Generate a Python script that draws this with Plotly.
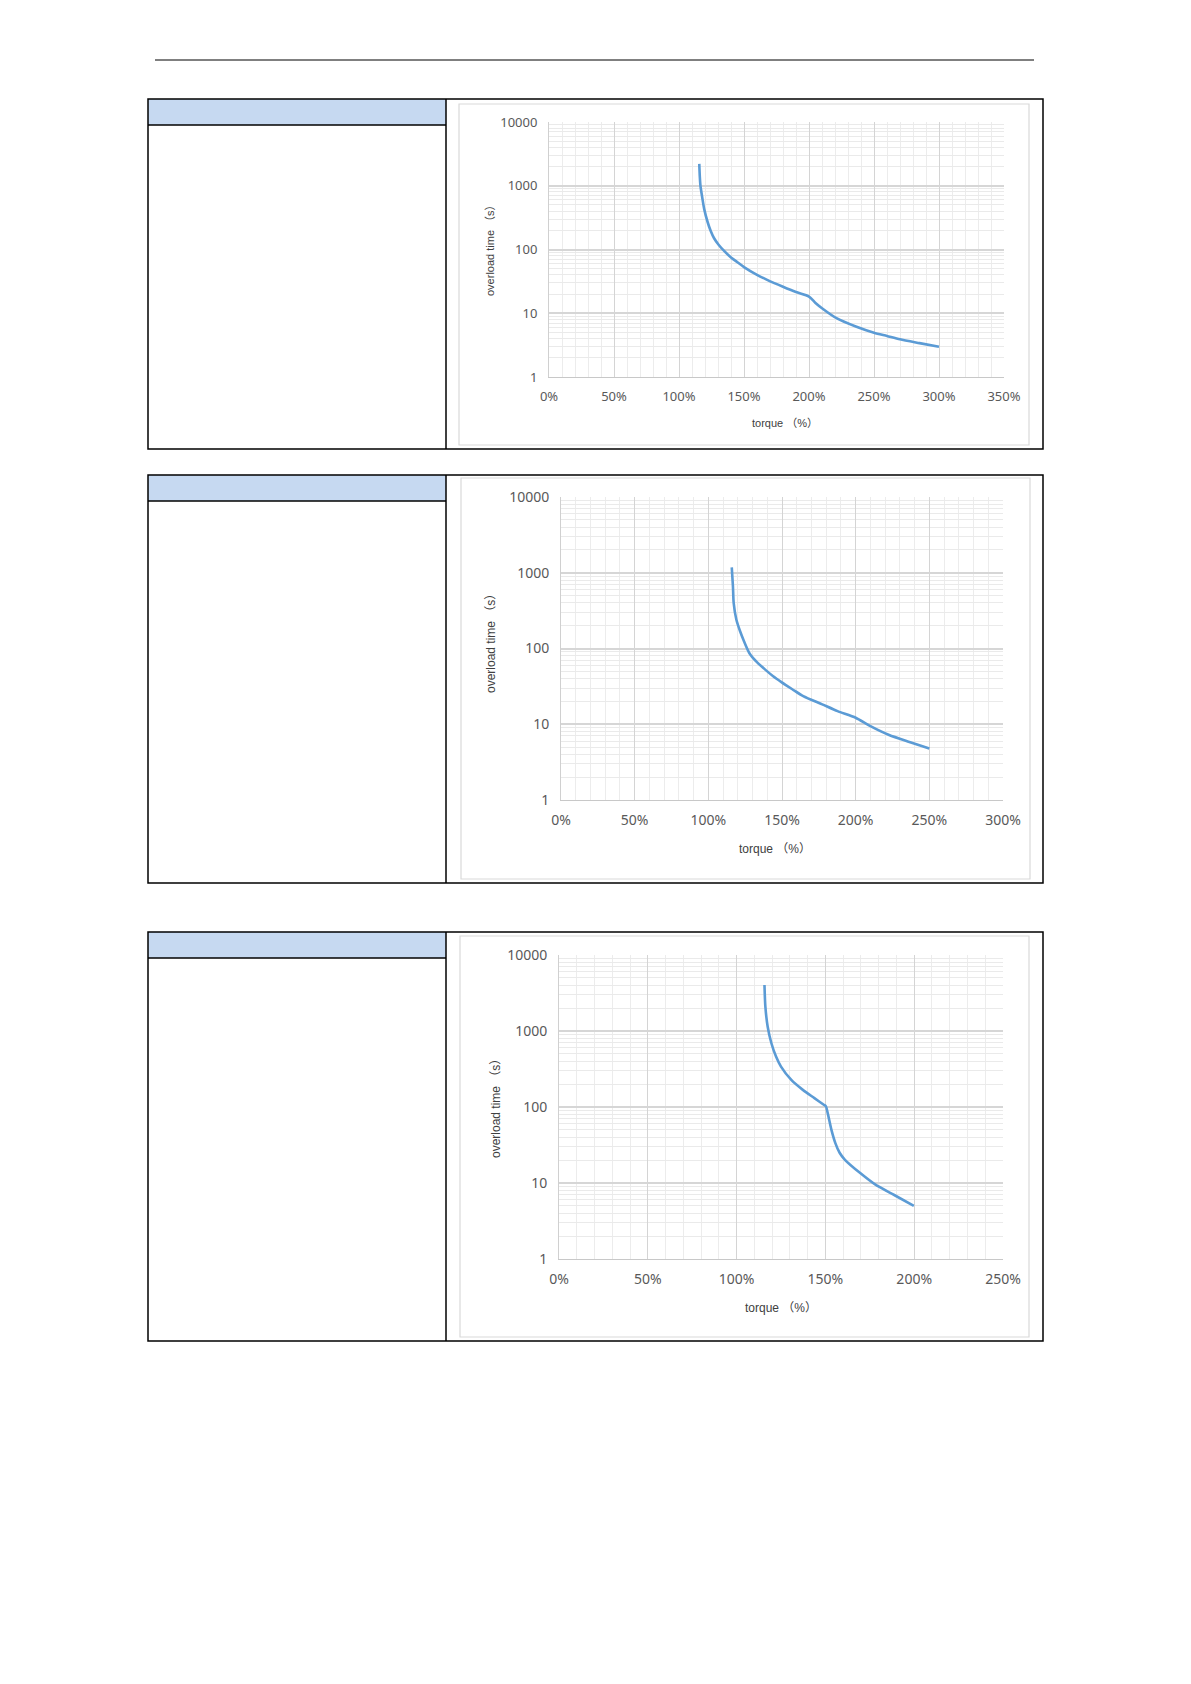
import plotly.graph_objects as go

# Overload curves: torque (%) vs. allowed overload time (s)
torque_1 = [115.6, 116.0, 116.5, 117.9, 119.4, 122.0, 124.4, 127.0, 130.3, 134.7, 140.0, 145.0,
            150.0, 160.0, 167.0, 180.0, 190.0, 200.0, 205.0, 210.0, 221.5, 236.0, 250.0, 260.0,
            270.0, 285.0, 300.0]
time_1 = [2200, 1400, 1000, 650, 430, 270, 195, 150, 120, 95, 75, 63,
          53, 40, 34, 26, 21.5, 18.3, 14.5, 12.0, 8.3, 6.2, 4.95, 4.4,
          3.9, 3.4, 2.98]

torque_2 = [115.9, 116.7, 117.2, 119.0, 121.5, 124.2, 128.0, 133.0, 138.4, 144.0, 149.6,
            157.0, 164.4, 177.3, 187.7, 200.0, 209.7, 222.7, 237.0, 250.0]
time_2 = [1180, 664, 400, 241, 170, 125, 86, 66, 53, 43, 36,
          29, 23.5, 18.3, 14.9, 12.2, 9.5, 7.2, 5.8, 4.8]

torque_3 = [115.7, 116.2, 117.5, 119.6, 122.2, 125.0, 130.8, 137.3, 143.8, 149.1, 150.3, 151.3,
            153.4, 155.6, 158.0, 161.0, 169.6, 178.2, 189.0, 199.8]
time_3 = [4030, 2090, 1140, 690, 461, 340, 227, 168, 131, 107, 102, 83,
          50, 33.5, 25, 20.2, 13.5, 9.5, 6.9, 5.0]

x_ticks_1 = [0, 50, 100, 150, 200, 250, 300, 350]
x_ticks_2 = [0, 50, 100, 150, 200, 250, 300]
x_ticks_3 = [0, 50, 100, 150, 200, 250]
y_ticks = [1, 10, 100, 1000, 10000]
y_labels = ["1", "10", "100", "1000", "10000"]

W, H = 1191, 1684
LINE_BLUE = "#5b9bd5"
TICK_FONT = "Noto Sans, Liberation Sans, sans-serif"
TITLE_FONT = "Liberation Sans, Noto Sans CJK SC, sans-serif"

# Minor log gridlines at 2..9 x each decade
y_minor = [m * 10 ** k for k in range(4) for m in range(2, 10)]


def px_x(v):
    """Page pixel column -> paper x."""
    return v / W


def px_y(v):
    """Page pixel row -> paper y."""
    return 1 - v / H


panels = [
    dict(x=torque_1, y=time_1, xt=x_ticks_1, plot=(549, 1004, 122, 377), font=13, title_font=11,
         table=(148, 1043, 99, 449), head=125, frame=(459, 1029, 104, 445),
         xtitle=(785, 423), ytitle=(490, 248)),
    dict(x=torque_2, y=time_2, xt=x_ticks_2, plot=(561, 1003, 497, 800), font=14, title_font=12,
         table=(148, 1043, 475, 883), head=501, frame=(461, 1030, 478, 879),
         xtitle=(775, 849), ytitle=(491, 641)),
    dict(x=torque_3, y=time_3, xt=x_ticks_3, plot=(559, 1003, 955, 1259), font=14, title_font=12,
         table=(148, 1043, 932, 1341), head=958, frame=(460, 1029, 936, 1337),
         xtitle=(781, 1308), ytitle=(496, 1105)),
]

fig = go.Figure()
shapes = []
annotations = []

# Page header rule
shapes.append(dict(type="line", xref="paper", yref="paper",
                   x0=px_x(155), x1=px_x(1034), y0=px_y(60), y1=px_y(60),
                   line=dict(color="#000000", width=1)))

for i, p in enumerate(panels, start=1):
    xa = "xaxis" if i == 1 else f"xaxis{i}"
    ya = "yaxis" if i == 1 else f"yaxis{i}"
    xr = "x" if i == 1 else f"x{i}"
    yr = "y" if i == 1 else f"y{i}"
    x0, x1, y0, y1 = p["plot"]

    fig.add_trace(go.Scatter(x=p["x"], y=p["y"], mode="lines", xaxis=xr, yaxis=yr,
                             line=dict(color=LINE_BLUE, width=2.6, shape="spline", smoothing=0.7),
                             showlegend=False, hoverinfo="skip"))

    xmax = p["xt"][-1]
    fig.layout[xa] = dict(
        domain=[px_x(x0), px_x(x1)], anchor=yr, range=[0, xmax],
        tickvals=p["xt"], ticktext=[f"{v}%" for v in p["xt"]],
        tickfont=dict(family=TICK_FONT, size=p["font"], color="#595959"),
        showgrid=True, gridcolor="#d4d4d4", gridwidth=1.2,
        minor=dict(dtick=10, tick0=0, showgrid=True, gridcolor="#ececec", gridwidth=1),
        showline=True, linecolor="#c8c8c8", linewidth=1.2, mirror=False,
        zeroline=False, ticks="", ticklabelstandoff=7, fixedrange=True, automargin=False,
    )
    fig.layout[ya] = dict(
        domain=[px_y(y1), px_y(y0)], anchor=xr, type="log", range=[0, 4],
        tickvals=y_ticks, ticktext=y_labels,
        tickfont=dict(family=TICK_FONT, size=p["font"], color="#595959"),
        showgrid=True, gridcolor="#d6d6d6", gridwidth=2,
        minor=dict(tickvals=y_minor, showgrid=True, gridcolor="#eaeaea", gridwidth=1),
        showline=True, linecolor="#d0d0d0", linewidth=1, mirror=False,
        zeroline=False, ticks="", ticklabelstandoff=8, fixedrange=True, automargin=False,
    )

    # Table cell layout around the chart
    tx0, tx1, ty0, ty1 = p["table"]
    shapes.append(dict(type="rect", xref="paper", yref="paper",
                       x0=px_x(tx0), x1=px_x(446), y0=px_y(p["head"]), y1=px_y(ty0),
                       fillcolor="#c6d9f1", line=dict(width=0), layer="below"))
    shapes.append(dict(type="rect", xref="paper", yref="paper",
                       x0=px_x(tx0), x1=px_x(tx1), y0=px_y(ty1), y1=px_y(ty0),
                       line=dict(color="#000000", width=1.5)))
    shapes.append(dict(type="line", xref="paper", yref="paper",
                       x0=px_x(446), x1=px_x(446), y0=px_y(ty1), y1=px_y(ty0),
                       line=dict(color="#000000", width=1.5)))
    shapes.append(dict(type="line", xref="paper", yref="paper",
                       x0=px_x(tx0), x1=px_x(446), y0=px_y(p["head"]), y1=px_y(p["head"]),
                       line=dict(color="#000000", width=1.5)))

    # Chart frame
    fx0, fx1, fy0, fy1 = p["frame"]
    shapes.append(dict(type="rect", xref="paper", yref="paper",
                       x0=px_x(fx0), x1=px_x(fx1), y0=px_y(fy1), y1=px_y(fy0),
                       line=dict(color="#d9d9d9", width=1.2), layer="below"))

    # Axis titles
    annotations.append(dict(text="torque （%）", xref="paper", yref="paper",
                            x=px_x(p["xtitle"][0]), y=px_y(p["xtitle"][1]),
                            xanchor="center", yanchor="middle", showarrow=False,
                            font=dict(family=TITLE_FONT, size=p["title_font"], color="#404040")))
    annotations.append(dict(text="overload time （s）", xref="paper", yref="paper",
                            x=px_x(p["ytitle"][0]), y=px_y(p["ytitle"][1]), textangle=-90,
                            xanchor="center", yanchor="middle", showarrow=False,
                            font=dict(family=TITLE_FONT, size=p["title_font"], color="#404040")))

fig.update_layout(
    width=W, height=H,
    margin=dict(l=0, r=0, t=0, b=0, pad=0, autoexpand=False),
    paper_bgcolor="white", plot_bgcolor="white",
    shapes=shapes, annotations=annotations,
)

fig.write_html("out.html", config={"displayModeBar": False})
